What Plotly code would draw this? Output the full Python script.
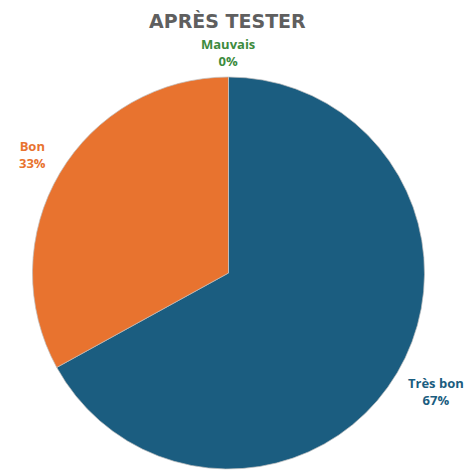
import numpy as np
import plotly.graph_objects as go

categories = ["Très bon", "Bon", "Mauvais"]
values = [67, 33, 0]
colors = ["#1b5d80", "#e8732f", "#3d8b3d"]
title_text = "APRÈS TESTER"

W, H = 474, 472
OFF = 8  # page body margin offset
cx, cy, R = 228.5 - OFF, 273.0 - OFF, 196.0
r0 = 207.0  # distance of label box corner from centre

fig = go.Figure(go.Pie(
    labels=categories,
    values=values,
    sort=False,
    direction="clockwise",
    rotation=0,
    marker=dict(colors=colors, line=dict(color="rgba(190,190,190,0.7)", width=1)),
    textinfo="none",
    hoverinfo="label+percent",
    showlegend=False,
    domain=dict(x=[(cx - R) / W, (cx + R) / W], y=[1 - (cy + R) / H, 1 - (cy - R) / H]),
))

total = float(np.sum(values))
cum = np.cumsum([0] + values[:-1])
annotations = []
for cat, v, c0, col in zip(categories, values, cum, colors):
    mid = (c0 + v / 2.0) / total * 2 * np.pi  # clockwise from 12 o'clock
    dx, dy = np.sin(mid), -np.cos(mid)
    sx = 0.0 if abs(dx) < 1e-6 else np.sign(dx)
    sy = 0.0 if abs(dy) < 1e-6 else np.sign(dy)
    pct = f"{round(v / total * 100)}%"
    tw = max(len(cat), len(pct)) * 3.5  # half text width estimate
    hw = tw + 7
    hh = 13.0
    px = cx + r0 * dx + sx * hw
    px = min(px, W - 2 * OFF - 2 - tw)  # keep text inside the visible window
    py = cy + r0 * dy + sy * hh
    annotations.append(dict(
        x=px / W, y=1 - py / H, xref="paper", yref="paper",
        text=f"<b>{cat}</b><br><b>{pct}</b>", showarrow=False,
        font=dict(family="Open Sans, sans-serif", size=13, color=col),
        xanchor="center", yanchor="middle", align="center",
    ))

annotations.append(dict(
    x=(227 - OFF) / W, y=1 - (21 - OFF) / H, xref="paper", yref="paper",
    text=f"<b>{title_text}</b>", showarrow=False,
    font=dict(family="DejaVu Sans, sans-serif", size=19, color="#5f5f5f"),
    xanchor="center", yanchor="middle",
))

fig.update_layout(
    width=W, height=H,
    margin=dict(l=0, r=0, t=0, b=0),
    paper_bgcolor="white", plot_bgcolor="white",
    annotations=annotations,
)

fig.write_html("out.html")
